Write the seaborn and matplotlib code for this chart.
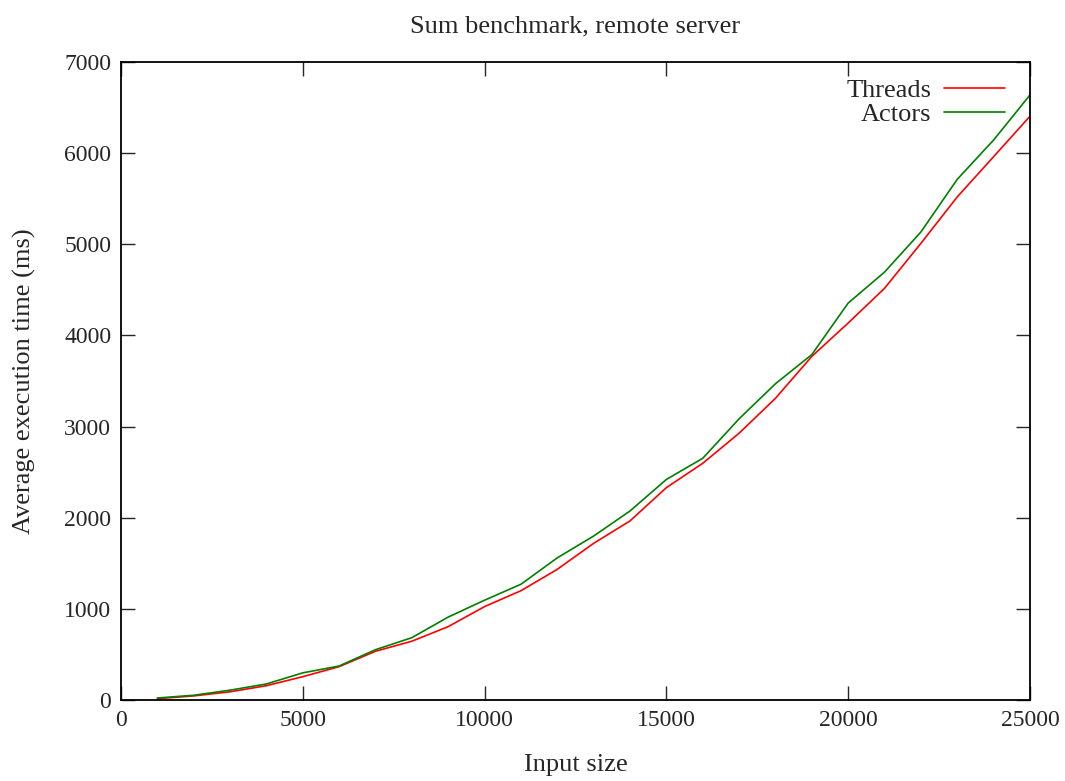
import numpy as np
import matplotlib
matplotlib.use("Agg")
import matplotlib.pyplot as plt
import seaborn as sns
import pandas as pd

# input sizes and average times (ms)
sizes = [1000, 2000, 3000, 4000, 5000, 6000, 7000, 8000, 9000, 10000,
         11000, 12000, 13000, 14000, 15000, 16000, 17000, 18000, 19000, 20000,
         21000, 22000, 23000, 24000, 25000]
threads = [15, 45, 90, 157, 256, 366, 535, 645, 805, 1025,
           1199, 1434, 1719, 1965, 2330, 2597, 2927, 3310, 3770, 4136,
           4517, 5010, 5520, 5961, 6405]
actors = [22, 52, 108, 176, 298, 373, 552, 684, 910, 1095,
          1270, 1560, 1799, 2074, 2420, 2652, 3085, 3470, 3790, 4355,
          4695, 5135, 5713, 6144, 6638]
series_names = ["Threads", "Actors"]
colors = ["#ff0000", "#008000"]

df = pd.DataFrame({
    "size": sizes * 2,
    "time": threads + actors,
    "impl": ["Threads"] * len(sizes) + ["Actors"] * len(sizes),
})

sns.set_style("ticks")
plt.rcParams["font.family"] = ["Liberation Serif", "DejaVu Serif"]

fig = plt.figure(figsize=(10.65, 7.81), dpi=100)
ax = fig.add_axes([0.1136, 0.1037, 0.8535, 0.8169])

sns.lineplot(data=df, x="size", y="time", hue="impl", hue_order=series_names,
             palette=colors, linewidth=1.2, ax=ax)

ax.set_xlim(0, 25000)
ax.set_ylim(0, 7000)
ax.set_xticks(range(0, 25001, 5000))
ax.set_yticks(range(0, 7001, 1000))
ax.tick_params(direction="in", top=True, right=True, length=10, width=1,
               labelsize=17, pad=7)
for s in ax.spines.values():
    s.set_linewidth(1.3)
    s.set_color("black")

ax.set_title("Sum benchmark, remote server", fontsize=19, pad=21)
ax.set_xlabel("Input size", fontsize=19, labelpad=17)
ax.set_ylabel("Average execution time (ms)", fontsize=19, labelpad=20)

# legend: labels to the left of the line samples, top right corner
leg = ax.legend(loc="upper right", frameon=False, markerfirst=False,
                fontsize=19, handlelength=2.3, labelspacing=0.0,
                borderaxespad=0, borderpad=0, handletextpad=0.5,
                bbox_to_anchor=(1005 / 1065, 1 - 79 / 781),
                bbox_transform=fig.transFigure)

fig.savefig("out.png", dpi=100)
